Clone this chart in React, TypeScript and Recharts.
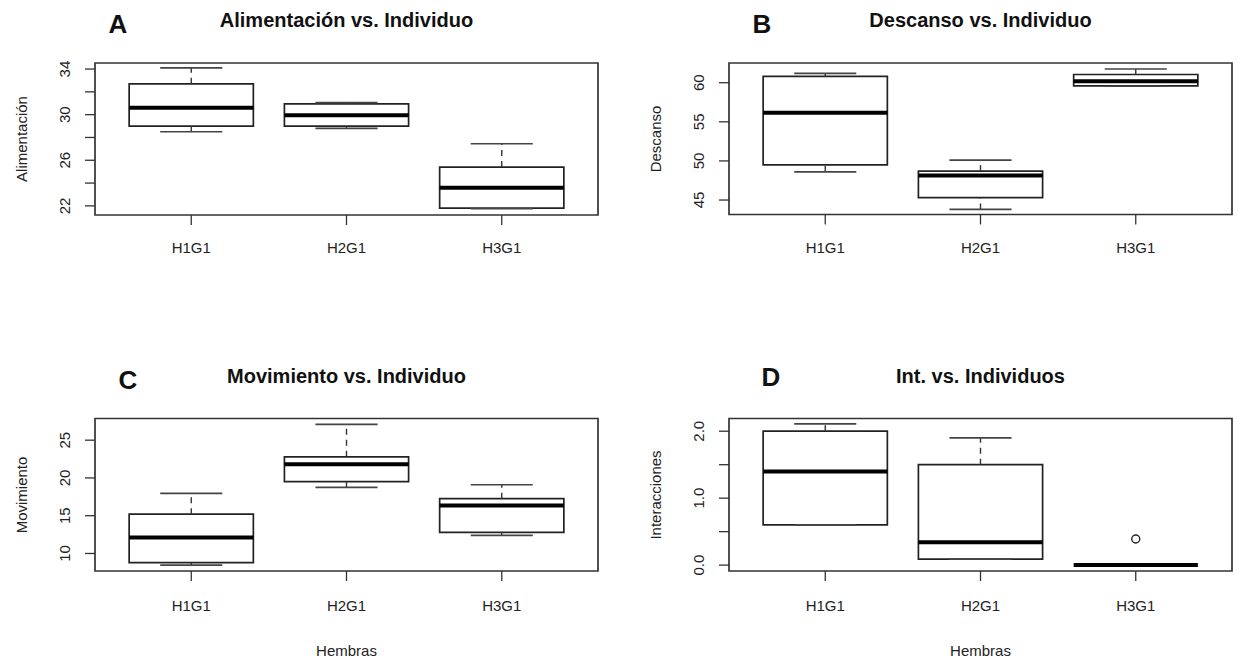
import { ComposedChart, XAxis, YAxis, ReferenceArea, ReferenceLine, Scatter } from "recharts"

const groups = ["H1G1", "H2G1", "H3G1"]
const groupPos = [1, 2, 3]

// five-number summary per female: [min, q1, median, q3, max]
const alimentacion = [
  [28.5, 29.0, 30.6, 32.7, 34.1],
  [28.8, 29.0, 29.95, 30.95, 31.05],
  [21.75, 21.8, 23.6, 25.4, 27.45],
]
const descanso = [
  [48.6, 49.5, 56.15, 60.8, 61.2],
  [43.8, 45.3, 48.15, 48.7, 50.1],
  [59.55, 59.6, 60.2, 61.05, 61.75],
]
const movimiento = [
  [8.45, 8.8, 12.1, 15.2, 17.95],
  [18.75, 19.5, 21.8, 22.8, 27.1],
  [12.4, 12.8, 16.35, 17.25, 19.1],
]
const interacciones = [
  [0.6, 0.6, 1.4, 2.0, 2.11],
  [0.09, 0.09, 0.34, 1.5, 1.9],
  [0, 0, 0, 0, 0],
]
const interaccionesOutliers = [{ x: 3, y: 0.39 }]

const aliTicks = [22, 24, 26, 28, 30, 32, 34]
const aliLabels = [22, 26, 30, 34]
const desTicks = [45, 50, 55, 60]
const movTicks = [10, 15, 20, 25]
const intTicks = [0, 0.5, 1, 1.5, 2]
const intLabels = [0, 1, 2]

const FONT = '"Liberation Sans", Arial, Helvetica, sans-serif'
const INK = "#222"
const W = 619
const H = 304
const xDomain = [0.38, 3.62]

function BoxPanel(p: any) {
  const [sx, sy] = p.slot
  const [px0, py0, px1, py1] = p.plot
  const yAxisW = 80
  const xAxisH = 40
  const margin = {
    top: py0 - sy,
    left: px0 - sx - yAxisW,
    right: sx + W - px1,
    bottom: sy + H - py1 - xAxisH,
  }
  const cx = (px0 + px1) / 2
  const cy = (py0 + py1) / 2

  const xTick = (t: any) => (
    <text x={t.x} y={t.y} dy="0.35em" textAnchor="middle" fontSize={15} fill={INK} fontFamily={FONT}>
      {groups[t.payload.value - 1]}
    </text>
  )
  const yTick = (t: any) =>
    p.labeled.includes(t.payload.value) ? (
      <text
        x={t.x}
        y={t.y}
        transform={`rotate(-90, ${t.x}, ${t.y})`}
        textAnchor="middle"
        fontSize={15}
        fill={INK}
        fontFamily={FONT}
      >
        {p.fmt(t.payload.value)}
      </text>
    ) : (
      <g />
    )

  return (
    <>
      <div style={{ position: "absolute", left: sx, top: sy }}>
        <ComposedChart width={W} height={H} margin={margin}>
          <XAxis
            type="number"
            dataKey="x"
            domain={xDomain}
            ticks={groupPos}
            interval={0}
            allowDataOverflow
            height={xAxisH}
            axisLine={false}
            tickSize={10}
            tickMargin={p.xTickMargin}
            tickLine={{ stroke: "#333", strokeWidth: 1.3 }}
            tick={xTick}
          />
          <YAxis
            type="number"
            dataKey="y"
            domain={p.yDomain}
            ticks={p.ticks}
            interval={0}
            allowDataOverflow
            width={yAxisW}
            axisLine={false}
            tickSize={10}
            tickMargin={15}
            tickLine={{ stroke: "#333", strokeWidth: 1.3 }}
            tick={yTick}
          />
          <ReferenceArea
            x1={xDomain[0]}
            x2={xDomain[1]}
            y1={p.yDomain[0]}
            y2={p.yDomain[1]}
            fill="none"
            stroke="#333"
            strokeWidth={1.7}
            ifOverflow="visible"
          />
          {p.stats.map((s: number[], i: number) => {
            const x = groupPos[i]
            return [
              <ReferenceLine
                key={`wl${i}`}
                segment={[{ x, y: s[0] }, { x, y: s[1] }]}
                stroke="#333"
                strokeWidth={1.4}
                strokeDasharray="6 5"
                ifOverflow="visible"
              />,
              <ReferenceLine
                key={`wh${i}`}
                segment={[{ x, y: s[3] }, { x, y: s[4] }]}
                stroke="#333"
                strokeWidth={1.4}
                strokeDasharray="6 5"
                ifOverflow="visible"
              />,
              <ReferenceLine
                key={`cl${i}`}
                segment={[{ x: x - 0.2, y: s[0] }, { x: x + 0.2, y: s[0] }]}
                stroke="#444"
                strokeWidth={1.7}
                ifOverflow="visible"
              />,
              <ReferenceLine
                key={`ch${i}`}
                segment={[{ x: x - 0.2, y: s[4] }, { x: x + 0.2, y: s[4] }]}
                stroke="#444"
                strokeWidth={1.7}
                ifOverflow="visible"
              />,
              <ReferenceArea
                key={`b${i}`}
                x1={x - 0.4}
                x2={x + 0.4}
                y1={s[1]}
                y2={s[3]}
                fill="#fff"
                fillOpacity={1}
                stroke="#222"
                strokeWidth={1.7}
                ifOverflow="visible"
              />,
              <ReferenceLine
                key={`m${i}`}
                segment={[{ x: x - 0.4, y: s[2] }, { x: x + 0.4, y: s[2] }]}
                stroke="#000"
                strokeWidth={4}
                ifOverflow="visible"
              />,
            ]
          })}
          <Scatter
            data={p.outliers}
            dataKey="y"
            isAnimationActive={false}
            shape={(d: any) => <circle cx={d.cx} cy={d.cy} r={4} fill="none" stroke={INK} strokeWidth={1.4} />}
          />
        </ComposedChart>
      </div>
      <div
        style={{
          position: "absolute",
          left: cx - 250,
          width: 500,
          top: p.titleY - 12,
          lineHeight: "24px",
          textAlign: "center",
          fontSize: 20,
          fontWeight: "bold",
          color: "#111",
        }}
      >
        {p.title}
      </div>
      <div
        style={{
          position: "absolute",
          left: p.letterPos[0] - 20,
          width: 40,
          top: p.letterPos[1] - 16,
          lineHeight: "32px",
          textAlign: "center",
          fontSize: 26,
          fontWeight: "bold",
          color: "#111",
        }}
      >
        {p.letter}
      </div>
      <div
        style={{
          position: "absolute",
          left: p.yLabelX,
          top: cy,
          transform: "translate(-50%, -50%) rotate(-90deg)",
          whiteSpace: "nowrap",
          fontSize: 15,
          color: INK,
        }}
      >
        {p.yLabel}
      </div>
      {p.showXTitle && (
        <div
          style={{
            position: "absolute",
            left: cx - 100,
            width: 200,
            top: 651 - 9,
            lineHeight: "18px",
            textAlign: "center",
            fontSize: 15,
            color: INK,
          }}
        >
          Hembras
        </div>
      )}
    </>
  )
}

export default function App() {
  return (
    <div
      style={{
        position: "absolute",
        left: 0,
        top: 0,
        width: 1238,
        height: 659,
        background: "#fff",
        fontFamily: FONT,
        overflow: "hidden",
      }}
    >
      <BoxPanel
        slot={[0, 0]}
        plot={[95, 63, 598, 215]}
        yDomain={[21.2, 34.53]}
        ticks={aliTicks}
        labeled={aliLabels}
        fmt={(v: number) => String(v)}
        stats={alimentacion}
        outliers={[]}
        title="Alimentación vs. Individuo"
        titleY={20}
        letter="A"
        letterPos={[118, 24]}
        yLabel="Alimentación"
        yLabelX={21}
        xTickMargin={23}
        showXTitle={false}
      />
      <BoxPanel
        slot={[619, 0]}
        plot={[729, 63, 1232, 214.5]}
        yDomain={[43.15, 62.52]}
        ticks={desTicks}
        labeled={desTicks}
        fmt={(v: number) => String(v)}
        stats={descanso}
        outliers={[]}
        title="Descanso vs. Individuo"
        titleY={20}
        letter="B"
        letterPos={[762, 24]}
        yLabel="Descanso"
        yLabelX={655}
        xTickMargin={23}
        showXTitle={false}
      />
      <BoxPanel
        slot={[0, 355]}
        plot={[95, 418.5, 598, 571]}
        yDomain={[7.68, 27.87]}
        ticks={movTicks}
        labeled={movTicks}
        fmt={(v: number) => String(v)}
        stats={movimiento}
        outliers={[]}
        title="Movimiento vs. Individuo"
        titleY={376}
        letter="C"
        letterPos={[128, 380]}
        yLabel="Movimiento"
        yLabelX={21}
        xTickMargin={25}
        showXTitle={true}
      />
      <BoxPanel
        slot={[619, 355]}
        plot={[729, 418.5, 1232, 571]}
        yDomain={[-0.088, 2.19]}
        ticks={intTicks}
        labeled={intLabels}
        fmt={(v: number) => v.toFixed(1)}
        stats={interacciones}
        outliers={interaccionesOutliers}
        title="Int. vs. Individuos"
        titleY={376}
        letter="D"
        letterPos={[771, 377]}
        yLabel="Interacciones"
        yLabelX={655}
        xTickMargin={25}
        showXTitle={true}
      />
    </div>
  )
}
